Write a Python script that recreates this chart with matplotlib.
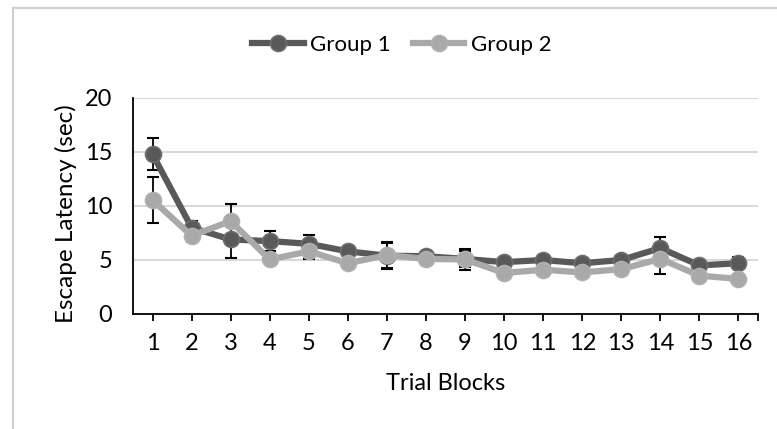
#!/usr/bin/env python3

import matplotlib
matplotlib.use("Agg")
from matplotlib import patches
from matplotlib.pyplot import figure, savefig, close

blocks = list(range(1, 17))
group1 = [14.8, 8.0, 6.9, 6.75, 6.5, 5.8, 5.4, 5.35, 5.1, 4.8, 5.0, 4.7, 5.0, 6.1, 4.5, 4.7]
group2 = [10.55, 7.25, 8.6, 5.05, 5.8, 4.7, 5.45, 5.1, 5.05, 3.8, 4.1, 3.85, 4.15, 5.1, 3.55, 3.25]
group1_err = [1.45, 0.65, 1.7, 0.95, 0.85, 0.4, 1.2, 0.35, 0.75, 0.3, 0.3, 0.3, 0.3, 1.05, 0.3, 0.55]
group2_err = [2.1, 0.55, 1.6, 0.4, 0.75, 0.3, 1.2, 0.3, 1.0, 0.3, 0.3, 0.3, 0.3, 1.4, 0.3, 0.3]
yticks = [0, 5, 10, 15, 20]

font = "Lato"
fs = 17

fig = figure(figsize=(7.77, 4.29), dpi=100)
fig.patches.append(patches.Rectangle(
    (13 / 777, -0.1), 1.2, 1.1 - 8 / 429,
    transform=fig.transFigure, fill=False, ec="#d0d0d0", lw=1.6,
))
ax = fig.add_axes([133 / 777, 1 - 314 / 429, 625 / 777, 216 / 429])

styles = [
    ("Group 1", group1, group1_err, "#595959", "#6e6e6e"),
    ("Group 2", group2, group2_err, "#a9a9a9", "#b0b0b0"),
]
for label, vals, err, color, edge in styles:
    ax.errorbar(blocks, vals, yerr=err, fmt="none", ecolor="black",
                elinewidth=1.3, capsize=4.5, capthick=1.5, zorder=2)
for label, vals, err, color, edge in styles:
    ax.plot(blocks, vals, color=color, lw=4.5, marker="o", ms=11.5,
            mfc=color, mec=edge, mew=1.2, label=label, zorder=3)

ax.set_xlim(0.5, 16.5)
ax.set_ylim(0, 20)
ax.set_xticks(blocks + [16.5])
ax.set_xticklabels([str(b) for b in blocks] + [""])
ax.set_yticks(yticks)
ax.grid(axis="y", color="#d9d9d9", lw=1.5, zorder=0)
ax.set_axisbelow(True)
for side in ["top", "right"]:
    ax.spines[side].set_visible(False)
ax.spines["left"].set_linewidth(1.3)
ax.spines["bottom"].set_linewidth(1.3)
ax.tick_params(axis="x", length=5, width=1.3, pad=9, labelsize=fs)
ax.tick_params(axis="y", length=0, pad=15, labelsize=fs)
for t in ax.get_xticklabels() + ax.get_yticklabels():
    t.set_family(font)

ax.set_xlabel("Trial Blocks", family=font, fontsize=fs)
ax.set_ylabel("Escape Latency (sec)", family=font, fontsize=fs + 0.5)
ax.xaxis.set_label_coords(0.5, -(384 - 314) / 216, transform=ax.transAxes)
ax.yaxis.set_label_coords(-(133 - 66) / 625, (314 - 214) / 216, transform=ax.transAxes)
ax.xaxis.label.set_va("center")
ax.yaxis.label.set_va("center")

fig.legend(loc="center", bbox_to_anchor=(402 / 777, 1 - 45 / 429), ncol=2,
           frameon=False, handlelength=2.3, columnspacing=1.0,
           handletextpad=0.3, prop={"family": font, "size": 16})

savefig("out.png")
close()
